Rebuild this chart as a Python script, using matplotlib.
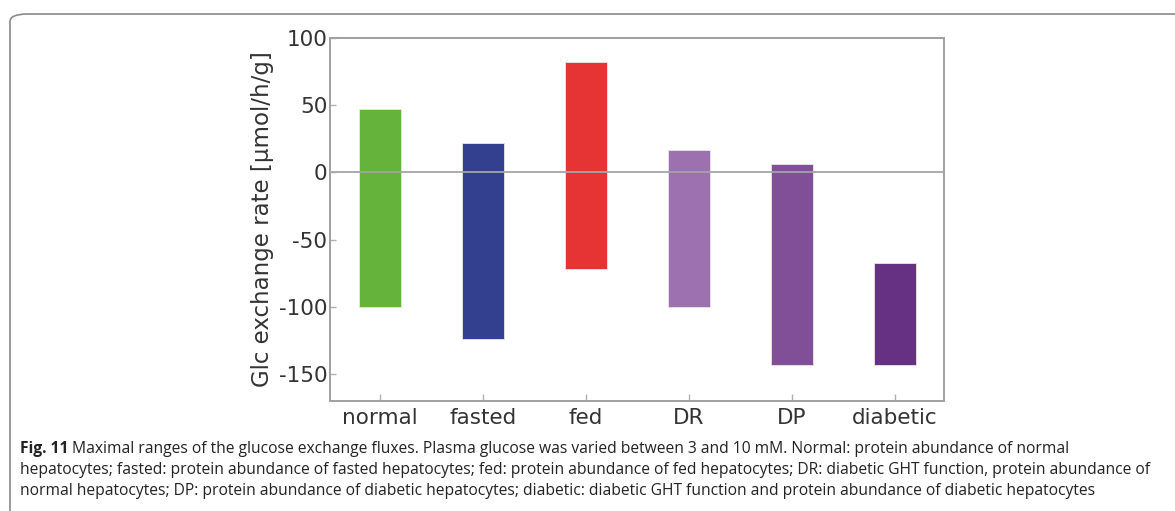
import matplotlib
matplotlib.use("Agg")
import matplotlib.pyplot as plt
from matplotlib.patches import FancyBboxPatch

plt.rcParams["axes.unicode_minus"] = False

categories = ["normal", "fasted", "fed", "DR", "DP", "diabetic"]
range_high = [47, 22, 82, 17, 6, -67]
range_low = [-100, -124, -72, -100, -143, -143]
bar_colors = ["#65b33a", "#33408f", "#e63434", "#9d70b0", "#804f98", "#673183"]
yticks = [100, 50, 0, -50, -100, -150]
ylabel = "Glc exchange rate [µmol/h/g]"
caption_bold = "Fig. 11"
caption_lines = [
    " Maximal ranges of the glucose exchange fluxes. Plasma glucose was varied between 3 and 10 mM. Normal: protein abundance of normal",
    "hepatocytes; fasted: protein abundance of fasted hepatocytes; fed: protein abundance of fed hepatocytes; DR: diabetic GHT function, protein abundance of",
    "normal hepatocytes; DP: protein abundance of diabetic hepatocytes; diabetic: diabetic GHT function and protein abundance of diabetic hepatocytes",
]

W, H = 1175, 511
fig = plt.figure(figsize=(W / 100, H / 100), dpi=100)
fig.patch.set_facecolor("white")

# rounded frame around figure
frame = FancyBboxPatch((10 / W, -40 / H), (W + 60) / W, (H - 14 + 40) / H,
                       boxstyle="round,pad=0,rounding_size=0.015",
                       transform=fig.transFigure, facecolor="none",
                       edgecolor="#8a8a8a", linewidth=1.2, clip_on=False)
fig.patches.append(frame)

ax = fig.add_axes([330 / W, 1 - 401 / H, (944 - 330) / W, (401 - 38) / H])
x = list(range(len(categories)))
heights = [h - l for h, l in zip(range_high, range_low)]
ax.bar(x, heights, bottom=range_low, width=0.41, color=bar_colors,
       edgecolor="#e8e8e8", linewidth=0.6, zorder=2)
ax.axhline(0, color="#a5a5a5", linewidth=1.3, zorder=3)

ax.set_xlim(-0.485, 5.475)
ax.set_ylim(-170, 100)
ax.set_yticks(yticks)
ax.set_xticks(x)
ax.set_xticklabels(categories)
for s in ax.spines.values():
    s.set_color("#a0a0a0")
    s.set_linewidth(1.4)
ax.tick_params(axis="both", direction="in", color="#b0b0b0", width=1,
               labelsize=15.5, labelcolor="#333333")
ax.tick_params(axis="y", length=4, pad=2)
ax.tick_params(axis="x", length=5, pad=5)
ax.set_ylabel(ylabel, fontsize=16.5, color="#333333", labelpad=3)

# caption
renderer = fig.canvas.get_renderer()
cap_font = "Open Sans"
cap_size = 11.25
y0 = 1 - 449 / H
dy = 21 / H
tb = fig.text(20 / W, y0, caption_bold, fontsize=cap_size, fontweight="bold",
              family=cap_font, color="#222222", va="center", ha="left")
bb = tb.get_window_extent(renderer=renderer)
fig.text(bb.x1 / W, y0, caption_lines[0], fontsize=cap_size, family=cap_font,
         color="#222222", va="center", ha="left")
for i, line in enumerate(caption_lines[1:], start=1):
    fig.text(20 / W, y0 - i * dy, line, fontsize=cap_size, family=cap_font,
             color="#222222", va="center", ha="left")

fig.savefig("out.png", dpi=100)
